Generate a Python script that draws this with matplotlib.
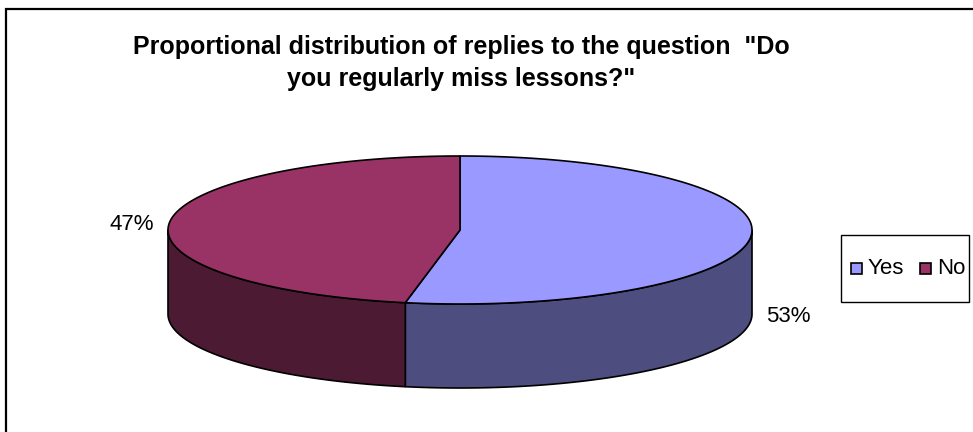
import numpy as np
import matplotlib
matplotlib.use("Agg")
import matplotlib.pyplot as plt
from matplotlib.patches import Polygon, Rectangle

# Survey answers
categories = ["Yes", "No"]
shares = [53, 47]
top_colors = ["#9999FF", "#993366"]
side_colors = ["#4D4D80", "#4D1A33"]
title = 'Proportional distribution of replies to the question  "Do\nyou regularly miss lessons?"'

plt.rcParams["font.family"] = ["Liberation Sans", "DejaVu Sans"]

W, H = 973, 432
fig = plt.figure(figsize=(W / 100, H / 100), dpi=100)
ax = fig.add_axes([0, 0, 1, 1])
ax.set_xlim(0, W)
ax.set_ylim(H, 0)
ax.axis("off")

# chart frame (only left and top edges fall inside the canvas)
ax.plot([6, 6, W + 5], [H + 5, 9, 9], color="black", lw=1.6, solid_joinstyle="miter")

# pie geometry in pixel space
cx, cy = 460.0, 230.0
ra, rb = 292.0, 74.0
depth = 84.0


def pt(theta, dy=0.0):
    return cx + ra * np.cos(theta), cy - rb * np.sin(theta) + dy


# slice angles: start at 12 o'clock, clockwise
total = float(sum(shares))
bounds = []
start = np.pi / 2
for s in shares:
    end = start - 2 * np.pi * s / total
    bounds.append((end, start))
    start = end

# side walls (front half only: angles between pi and 2pi)
for (t0, t1), col in zip(bounds, side_colors):
    for shift in (0.0, 2 * np.pi, -2 * np.pi):
        a0, a1 = t0 + shift, t1 + shift
        lo, hi = max(a0, np.pi), min(a1, 2 * np.pi)
        if hi <= lo:
            continue
        th = np.linspace(lo, hi, 200)
        xt, yt = pt(th)
        xb, yb = pt(th[::-1], depth)
        poly = Polygon(np.column_stack([np.r_[xt, xb], np.r_[yt, yb]]),
                       closed=True, facecolor=col, edgecolor="black", lw=1.2,
                       joinstyle="round")
        ax.add_patch(poly)

# top faces
for (t0, t1), col in zip(bounds, top_colors):
    th = np.linspace(t0, t1, 300)
    xs, ys = pt(th)
    verts = np.column_stack([np.r_[cx, xs], np.r_[cy, ys]])
    ax.add_patch(Polygon(verts, closed=True, facecolor=col, edgecolor="black",
                         lw=1.2, joinstyle="round"))

# percentage labels
labels = [f"{s}%" for s in shares]
ax.text(788, 316, labels[0], fontsize=16, ha="center", va="center")
ax.text(132, 225, labels[1], fontsize=16, ha="center", va="center")

# title
ax.text(461, 63, title, fontsize=18, fontweight="bold", ha="center",
        va="center", linespacing=1.4)

# legend
ax.add_patch(Rectangle((841, 235), 128, 67, facecolor="white",
                       edgecolor="black", lw=1.0))
leg_x = [851, 920]
for x, col, name in zip(leg_x, top_colors, categories):
    ax.add_patch(Rectangle((x, 263), 11, 11, facecolor=col,
                           edgecolor="black", lw=1.2))
    ax.text(x + 17, 268.5, name, fontsize=16, ha="left", va="center")

fig.savefig("out.png", dpi=100, facecolor="white")
